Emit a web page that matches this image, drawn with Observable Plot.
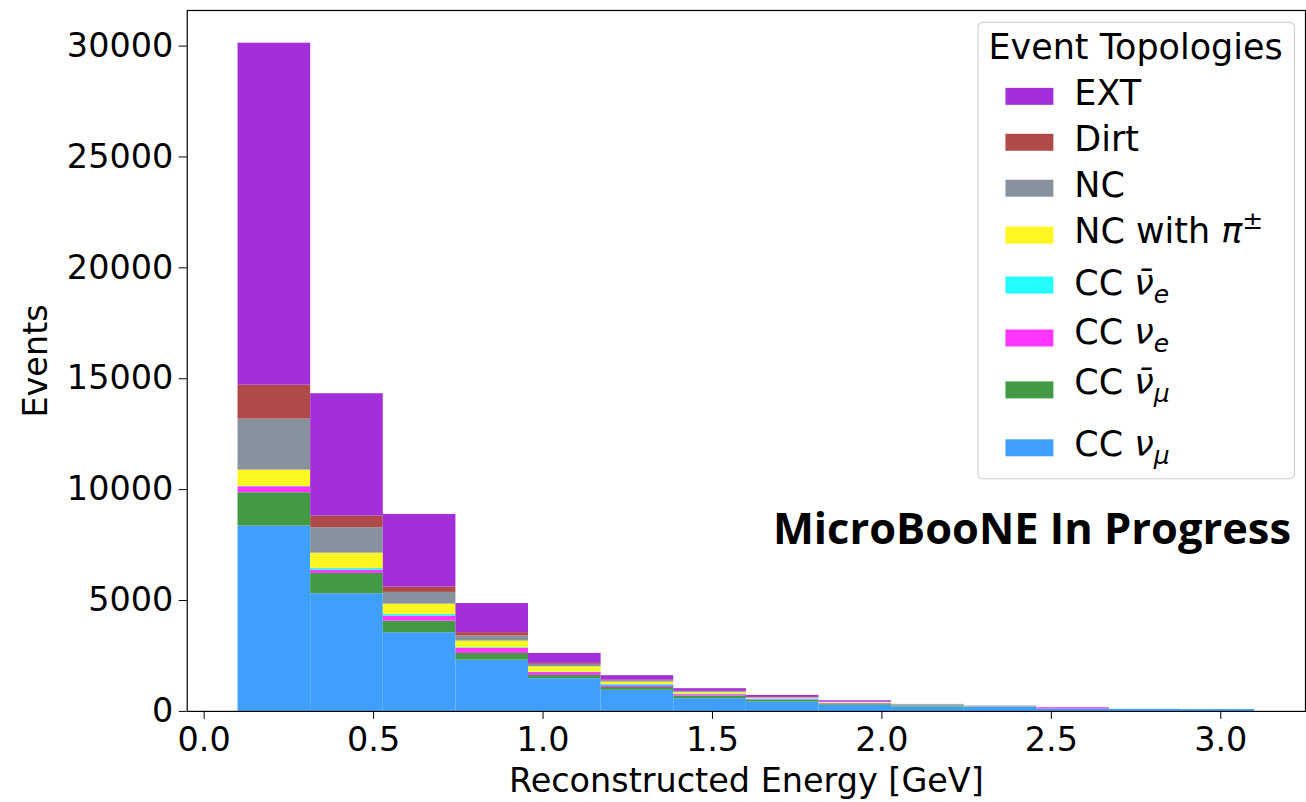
<!DOCTYPE html>
<html>
<head>
<meta charset="utf-8">
<script src="https://cdn.jsdelivr.net/npm/d3@7"></script>
<script src="https://cdn.jsdelivr.net/npm/@observablehq/plot@0.6"></script>
<style>
  html, body { margin: 0; padding: 0; background: #fff; overflow: hidden; }
  #chart { position: relative; width: 1306px; height: 802px; overflow: hidden; }
</style>
</head>
<body>
<div id="chart"></div>
<script>
// Reconstructed-energy bins (GeV): 14 equal bins from 0.1 to 3.1
const binEdges = [0.1, 0.3143, 0.5286, 0.7429, 0.9571, 1.1714, 1.3857, 1.6, 1.8143, 2.0286, 2.2429, 2.4571, 2.6714, 2.8857, 3.1];

// Event topologies, stacked bottom to top
const categories = ["CC νμ", "CC ν̄μ", "CC νe", "CC ν̄e", "NC with π±", "NC", "Dirt", "EXT"];
const colors = ["#3f9ffc", "#429a45", "#ff36ff", "#22fffc", "#fff622", "#87929e", "#b04a48", "#a22fd9"];

// Events per bin for each topology
const ccNumu    = [8355, 5306, 3548, 2313, 1473, 950, 575, 420, 280, 200, 180, 110, 90, 85];
const ccNumuBar = [1505, 916, 524, 300, 150, 130, 120, 80, 50, 50, 20, 0, 0, 0];
const ccNue     = [270, 150, 225, 230, 130, 80, 60, 30, 25, 10, 5, 50, 0, 0];
const ccNueBar  = [20, 75, 76, 30, 20, 60, 30, 40, 15, 10, 5, 0, 0, 0];
const ncPi      = [730, 690, 465, 300, 240, 100, 70, 30, 30, 10, 5, 0, 0, 0];
const nc        = [2300, 1145, 527, 230, 110, 60, 30, 20, 15, 30, 25, 0, 0, 0];
const dirt      = [1530, 524, 240, 150, 40, 30, 20, 10, 5, 5, 0, 0, 0, 0];
const ext       = [15420, 5518, 3277, 1310, 450, 200, 120, 90, 60, 0, 0, 10, 0, 0];
const seriesValues = [ccNumu, ccNumuBar, ccNue, ccNueBar, ncPi, nc, dirt, ext];

const xTicks = [0, 0.5, 1.0, 1.5, 2.0, 2.5, 3.0];
const yTicks = [0, 5000, 10000, 15000, 20000, 25000, 30000];

// Long-form table with stacked extents per bin
const rows = [];
for (let i = 0; i < binEdges.length - 1; i++) {
  let base = 0;
  categories.forEach((category, k) => {
    const v = seriesValues[k][i];
    rows.push({x1: binEdges[i], x2: binEdges[i + 1], y1: base, y2: base + v, category});
    base += v;
  });
}

const font = "DejaVu Sans, sans-serif";

const svg = Plot.plot({
  width: 1308,
  height: 802,
  marginLeft: 187,
  marginRight: 1,
  marginTop: 10,
  marginBottom: 90,
  style: {fontFamily: font, fontSize: "33px", color: "black", background: "white"},
  x: {domain: [-0.05, 3.25]},
  y: {domain: [0, 31605]},
  color: {domain: categories, range: colors},
  marks: [
    Plot.rect(rows, {x1: "x1", x2: "x2", y1: "y1", y2: "y2", fill: "category"}),
    Plot.axisY({
      ticks: yTicks, tickFormat: d => String(d), tickSize: 8, tickPadding: 6, fontSize: 33.5,
      label: "Events", labelAnchor: "center", labelArrow: "none", labelOffset: 164
    }),
    Plot.axisX({
      ticks: xTicks, tickFormat: d3.format(".1f"), tickSize: 8, tickPadding: 8, fontSize: 33.5,
      label: "Reconstructed Energy [GeV]", labelAnchor: "center", labelArrow: "none", labelOffset: 81
    }),
    Plot.frame({stroke: "black", strokeWidth: 1.2})
  ]
});

document.getElementById("chart").appendChild(svg);

// Legend box
const root = d3.select(svg);
const lg = root.append("g").attr("font-family", font).attr("fill", "black").attr("text-anchor", "start");
lg.append("rect")
  .attr("x", 979.5).attr("y", 22.5).attr("width", 317).attr("height", 457).attr("rx", 5)
  .attr("fill", "white").attr("fill-opacity", 0.8).attr("stroke", "#d0d0d0").attr("stroke-width", 1.2);
lg.append("text").attr("x", 990).attr("y", 59).attr("font-size", 35).attr("text-anchor", "start").text("Event Topologies");

// Legend rows, top to bottom (reverse stacking order)
const legendRows = [
  {cat: "EXT", parts: [["EXT"]], top: 88, base: 105},
  {cat: "Dirt", parts: [["Dirt"]], top: 134, base: 151},
  {cat: "NC", parts: [["NC"]], top: 180, base: 197},
  {cat: "NC with π±", parts: [["NC with "], ["π", "it"], ["±", "sup"]], top: 227, base: 243},
  {cat: "CC ν̄e", parts: [["CC "], ["ν̄", "it"], ["e", "sub"]], top: 277, base: 295},
  {cat: "CC νe", parts: [["CC "], ["ν", "it"], ["e", "sub"]], top: 330, base: 345},
  {cat: "CC ν̄μ", parts: [["CC "], ["ν̄", "it"], ["μ", "sub"]], top: 382, base: 395},
  {cat: "CC νμ", parts: [["CC "], ["ν", "it"], ["μ", "sub"]], top: 440, base: 457}
];
legendRows.forEach(r => {
  lg.append("rect").attr("x", 1007).attr("y", r.top).attr("width", 48).attr("height", 17)
    .attr("fill", colors[categories.indexOf(r.cat)]);
  const t = lg.append("text").attr("x", 1076).attr("y", r.base).attr("font-size", 35).attr("text-anchor", "start");
  r.parts.forEach(([s, kind]) => {
    const ts = t.append("tspan").text(s);
    if (kind === "it") ts.attr("font-style", "italic");
    if (kind === "sub") ts.attr("font-style", "italic").attr("font-size", 25).attr("dy", 8);
    if (kind === "sup") ts.attr("font-size", 25).attr("dy", -14);
  });
});

// Status annotation
root.append("text")
  .attr("x", 1293).attr("y", 545).attr("text-anchor", "end")
  .attr("font-family", "Open Sans, sans-serif").attr("font-weight", 700).attr("font-size", 43.5)
  .attr("fill", "black").text("MicroBooNE In Progress");
</script>
</body>
</html>
